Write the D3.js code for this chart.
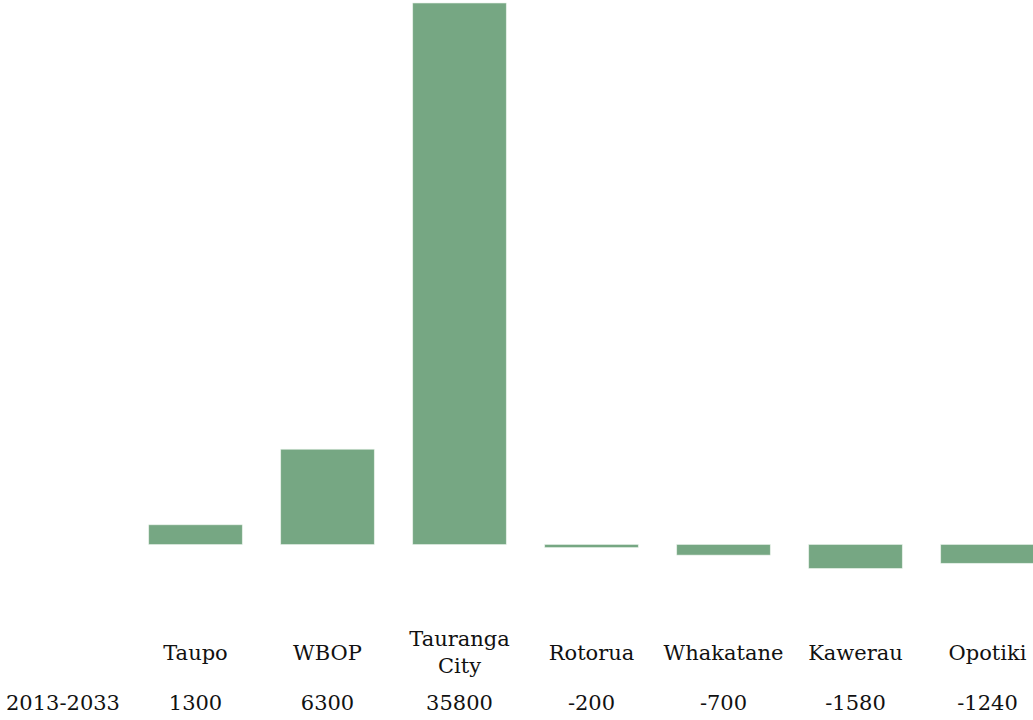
<!DOCTYPE html>
<html>
<head>
<meta charset="utf-8">
<script src="https://cdn.jsdelivr.net/npm/d3@7"></script>
<style>
  html, body { margin: 0; padding: 0; background: #ffffff; overflow: hidden; }
  svg { display: block; }
</style>
</head>
<body>
<svg id="chart" width="1033" height="720"></svg>
<script>
const categories = ["Taupo", "WBOP", "Tauranga City", "Rotorua", "Whakatane", "Kawerau", "Opotiki"];
const values = [1300, 6300, 35800, -200, -700, -1580, -1240];
const seriesName = "2013-2033";
const valueLabels = ["1300", "6300", "35800", "-200", "-700", "-1580", "-1240"];

const FONT = "'DejaVu Serif', 'Liberation Serif', 'Times New Roman', serif";
const svg = d3.select("#chart");
const barColor = "#76a783";

const x = d3.scaleBand()
  .domain(categories)
  .range([129.5, 1053.5])
  .paddingInner(0.2917)
  .paddingOuter(0.14585);

const y = d3.scaleLinear()
  .domain([0, 35800])
  .range([544.5, 3]);

const data = categories.map((c, i) => ({ cat: c, v: values[i], label: valueLabels[i] }));

svg.append("g").selectAll("rect")
  .data(data)
  .join("rect")
  .attr("x", d => x(d.cat))
  .attr("width", x.bandwidth())
  .attr("y", d => y(Math.max(0, d.v)))
  .attr("height", d => Math.abs(y(d.v) - y(0)))
  .attr("fill", barColor)
  .attr("stroke", "#e6f0e8")
  .attr("stroke-width", 0.6);

const fontSize = 21;
const catG = svg.append("g");
data.forEach(d => {
  const cx = x(d.cat) + x.bandwidth() / 2;
  const t = catG.append("text")
    .attr("text-anchor", "middle")
    .attr("font-family", FONT)
    .attr("font-size", fontSize)
    .attr("fill", "#111")
    .attr("x", cx);
  const words = d.cat.split(" ");
  t.text(d.cat);
  const w = t.node().getComputedTextLength();
  if (words.length > 1 && w > x.bandwidth()) {
    t.text(null);
    const lh = 27;
    const startY = 659.5 - (words.length - 1) * lh / 2;
    words.forEach((wd, j) => {
      t.append("tspan").attr("x", cx).attr("y", startY + j * lh).text(wd);
    });
  } else {
    t.attr("y", 659.5);
  }
});

svg.append("text")
  .attr("x", 6)
  .attr("y", 710)
  .attr("font-family", FONT)
  .attr("font-size", fontSize)
  .attr("fill", "#111")
  .text(seriesName);

svg.append("g").selectAll("text")
  .data(data)
  .join("text")
  .attr("x", d => x(d.cat) + x.bandwidth() / 2)
  .attr("y", 710)
  .attr("text-anchor", "middle")
  .attr("font-family", FONT)
  .attr("font-size", fontSize)
  .attr("fill", "#111")
  .text(d => d.label);
</script>
</body>
</html>
